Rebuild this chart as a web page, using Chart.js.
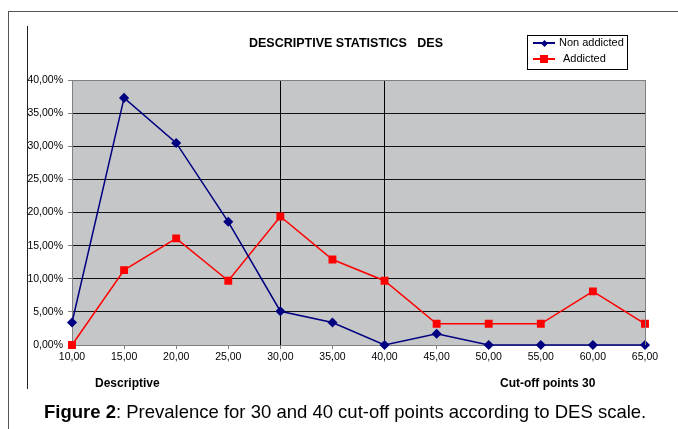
<!DOCTYPE html>
<html>
<head>
<meta charset="utf-8">
<script src="https://cdn.jsdelivr.net/npm/chart.js@4.4.0/dist/chart.umd.min.js"></script>
<style>
  body { margin: 0; background: #fff; font-family: 'Liberation Sans', Arial, sans-serif; }
  #wrap { position: relative; width: 678px; height: 429px; overflow: hidden; }
  #chart { position: absolute; left: 0; top: 0; }
  .frame-top { position: absolute; left: 8px; top: 11px; width: 670px; height: 1px; background: #555; }
  .frame-left { position: absolute; left: 8px; top: 11px; width: 1px; height: 418px; background: #555; }
  .inner-left { position: absolute; left: 27px; top: 26px; width: 1px; height: 363px; background: #222; }
  .title { position: absolute; left: 249px; top: 36px; font-weight: bold; font-size: 12.5px; white-space: pre; }
  .legend { position: absolute; left: 527px; top: 35px; width: 99px; height: 33px; border: 1px solid #000; background: #fff; font-size: 11px; }
  .legend .row { position: absolute; left: 3px; height: 13px; }
  .legend .ln { position: absolute; left: 2px; top: 6px; width: 22px; height: 2px; }
  .legend .mk { position: absolute; }
  .legend .txt { position: absolute; top: 0; white-space: nowrap; }
  .sub { position: absolute; top: 376px; font-weight: bold; font-size: 12px; white-space: nowrap; }
  .caption { position: absolute; left: 44px; top: 401px; font-size: 18.5px; white-space: nowrap; }
</style>
</head>
<body>
<div id="wrap">
  <canvas id="chart" width="678" height="429"></canvas>
  <div class="frame-top"></div>
  <div class="frame-left"></div>
  <div class="inner-left"></div>
  <div class="title">DESCRIPTIVE STATISTICS   DES</div>
  <div class="legend">
    <div class="row" style="top:0px;">
      <div class="ln" style="background:#000080;"></div>
      <div class="mk" style="left:10.5px;top:4.5px;width:5px;height:5px;background:#000080;transform:rotate(45deg);"></div>
      <div class="txt" style="left:28px;">Non addicted</div>
    </div>
    <div class="row" style="top:16px;">
      <div class="ln" style="background:#ff0000;"></div>
      <div class="mk" style="left:9px;top:3px;width:8px;height:8px;background:#ff0000;"></div>
      <div class="txt" style="left:32px;">Addicted</div>
    </div>
  </div>
  <div class="sub" style="left:95px;">Descriptive</div>
  <div class="sub" style="left:500px;">Cut-off points 30</div>
  <div class="caption"><b>Figure 2</b>: Prevalence for 30 and 40 cut-off points according to DES scale.</div>
</div>
<script>
// DES scores (x axis)
const scores = ['10,00', '15,00', '20,00', '25,00', '30,00', '35,00', '40,00', '45,00', '50,00', '55,00', '60,00', '65,00'];

// percentages
const nonAddicted = [3.4, 37.3, 30.5, 18.6, 5.1, 3.4, 0, 1.7, 0, 0, 0, 0];
const addicted = [0, 11.3, 16.1, 9.7, 19.4, 12.9, 9.7, 3.2, 3.2, 3.2, 8.1, 3.2];

// cut-off points drawn as vertical lines
const cutOffs = ['30,00', '40,00'];

Chart.defaults.font.family = "'Liberation Sans', Arial, sans-serif";
Chart.defaults.font.size = 10.5;
Chart.defaults.color = '#000';

// grey plot background + right border
const plotBg = {
    id: 'plotBg',
    beforeDraw(chart) {
        const a = chart.chartArea;
        const ctx = chart.ctx;
        ctx.save();
        ctx.fillStyle = '#c5c6c8';
        ctx.fillRect(a.left, a.top, a.right - a.left, a.bottom - a.top);
        ctx.restore();
    },
    afterDatasetsDraw(chart) {
        const a = chart.chartArea;
        const ctx = chart.ctx;
        ctx.save();
        ctx.strokeStyle = '#808080';
        ctx.lineWidth = 1;
        ctx.beginPath();
        ctx.moveTo(a.right + 0.5, a.top);
        ctx.lineTo(a.right + 0.5, a.bottom);
        ctx.stroke();
        ctx.restore();
    }
};

new Chart(document.getElementById('chart'), {
    type: 'line',
    data: {
        labels: scores,
        datasets: [{
            label: 'Non addicted',
            data: nonAddicted,
            borderColor: '#000080',
            backgroundColor: '#000080',
            borderWidth: 1.5,
            pointStyle: 'rectRot',
            pointRadius: 4,
            pointHoverRadius: 4,
            tension: 0,
            clip: false
        }, {
            label: 'Addicted',
            data: addicted,
            borderColor: '#ff0000',
            backgroundColor: '#ff0000',
            borderWidth: 1.5,
            pointStyle: 'rect',
            pointRadius: 4.5,
            pointHoverRadius: 4.5,
            tension: 0,
            clip: false
        }]
    },
    options: {
        responsive: false,
        animation: false,
        layout: { padding: { left: 22, top: 80, right: 33, bottom: 59 } },
        plugins: {
            legend: { display: false },
            tooltip: { enabled: false }
        },
        scales: {
            x: {
                offset: false,
                afterFit(scale) { scale.height = 25; },
                grid: {
                    color: c => (c.tick && cutOffs.includes(scores[c.tick.value])) ? '#000' : 'rgba(0,0,0,0)',
                    lineWidth: 1,
                    tickColor: '#808080',
                    tickLength: 4
                },
                border: { color: '#808080' },
                ticks: { padding: 2, maxRotation: 0, autoSkip: false }
            },
            y: {
                min: 0,
                max: 40,
                afterFit(scale) { scale.width = 50; },
                grid: {
                    color: c => c.tick && c.tick.value >= 40 ? '#808080' : '#111',
                    tickColor: '#808080',
                    tickLength: 4
                },
                border: { color: '#808080' },
                ticks: {
                    stepSize: 5,
                    padding: 5,
                    callback: v => v.toFixed(2).replace('.', ',') + '%'
                }
            }
        }
    },
    plugins: [plotBg]
});
</script>
</body>
</html>
